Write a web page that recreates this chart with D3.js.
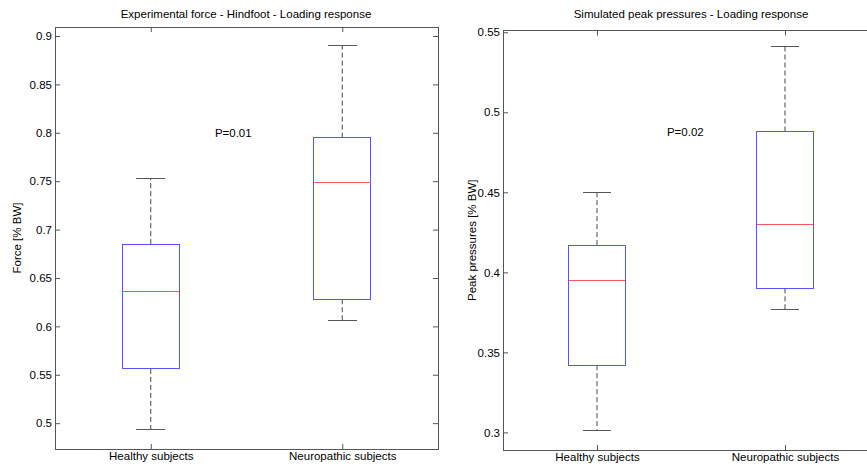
<!DOCTYPE html>
<html>
<head>
<meta charset="utf-8">
<script src="https://cdn.jsdelivr.net/npm/d3@7"></script>
<style>
  body { margin: 0; background: #fff; }
  svg { display: block; font-family: "Liberation Sans", Arial, sans-serif; }
  .axis text { font-size: 11.5px; fill: #000; }
  .axis line { stroke: #555; }
  .axis path { display: none; }
  .frame { fill: none; stroke: #555; stroke-width: 1; }
  .title, .ylabel, .pval { font-size: 11.5px; fill: #000; }
</style>
</head>
<body>
<div id="chart"></div>
<script>
// groups on the x axis
var groups = ["Healthy subjects", "Neuropathic subjects"];

// experimental force - hindfoot (box statistics per group)
var forceLow    = [0.493, 0.606];
var forceQ1     = [0.556, 0.628];
var forceMedian = [0.636, 0.749];
var forceQ3     = [0.685, 0.795];
var forceHigh   = [0.753, 0.890];
var forceTicks  = [0.5, 0.55, 0.6, 0.65, 0.7, 0.75, 0.8, 0.85, 0.9];

// simulated peak pressures (box statistics per group)
var pressLow    = [0.301, 0.377];
var pressQ1     = [0.342, 0.390];
var pressMedian = [0.395, 0.430];
var pressQ3     = [0.417, 0.488];
var pressHigh   = [0.450, 0.541];
var pressTicks  = [0.3, 0.35, 0.4, 0.45, 0.5, 0.55];

var svg = d3.select("#chart").append("svg")
    .attr("width", 867)
    .attr("height", 466);

// build records for one panel
function toBoxes (low, q1, med, q3, high) {
  return groups.map(function(g, i) {
    return {name: g, pos: i + 1, low: low[i], q1: q1[i], med: med[i], q3: q3[i], high: high[i]};
  });
}

function makeBox (opt) {

  var x = d3.scaleLinear().domain([0.5, 2.5]).range([opt.left, opt.right]);
  var y = d3.scaleLinear().domain(opt.yDomain).range([opt.bottom, opt.top]);

  var g = svg.append("g");

  // frame
  g.append("rect")
      .attr("class", "frame")
      .attr("x", opt.left)
      .attr("y", opt.top)
      .attr("width", opt.right - opt.left)
      .attr("height", opt.bottom - opt.top)
      .attr("shape-rendering", "crispEdges");

  // y axes, ticks pointing inwards
  g.append("g")
      .attr("class", "axis")
      .attr("transform", "translate(" + opt.left + ",0)")
      .call(d3.axisLeft(y).tickValues(opt.ticks).tickSize(-5).tickPadding(3)
              .tickFormat(function(d) { return String(d); }));
  g.append("g")
      .attr("class", "axis")
      .attr("transform", "translate(" + opt.right + ",0)")
      .call(d3.axisRight(y).tickValues(opt.ticks).tickSize(-5).tickFormat(""));

  // x axes
  g.append("g")
      .attr("class", "axis")
      .attr("transform", "translate(0," + opt.bottom + ")")
      .call(d3.axisBottom(x).tickValues([1, 2]).tickSize(-5).tickPadding(3)
              .tickFormat(function(d) { return groups[d - 1]; }));
  g.append("g")
      .attr("class", "axis")
      .attr("transform", "translate(0," + opt.top + ")")
      .call(d3.axisTop(x).tickValues([1, 2]).tickSize(-5).tickFormat(""));

  var boxes = g.selectAll(".box")
      .data(opt.data)
    .enter().append("g")
      .attr("class", "box");

  // dashed whiskers
  boxes.append("line")
      .attr("x1", function(d) { return x(d.pos); })
      .attr("x2", function(d) { return x(d.pos); })
      .attr("y1", function(d) { return y(d.q3); })
      .attr("y2", function(d) { return y(d.high); })
      .attr("stroke", "#444")
      .attr("stroke-dasharray", "5,3");
  boxes.append("line")
      .attr("x1", function(d) { return x(d.pos); })
      .attr("x2", function(d) { return x(d.pos); })
      .attr("y1", function(d) { return y(d.q1); })
      .attr("y2", function(d) { return y(d.low); })
      .attr("stroke", "#444")
      .attr("stroke-dasharray", "5,3");

  // caps
  ["low", "high"].forEach(function(k) {
    boxes.append("line")
        .attr("x1", function(d) { return x(d.pos - 0.075); })
        .attr("x2", function(d) { return x(d.pos + 0.075); })
        .attr("y1", function(d) { return y(d[k]); })
        .attr("y2", function(d) { return y(d[k]); })
        .attr("stroke", "#555")
        .attr("shape-rendering", "crispEdges");
  });

  // box
  boxes.append("rect")
      .attr("x", function(d) { return x(d.pos - 0.15); })
      .attr("width", function(d) { return x(d.pos + 0.15) - x(d.pos - 0.15); })
      .attr("y", function(d) { return y(d.q3); })
      .attr("height", function(d) { return y(d.q1) - y(d.q3); })
      .attr("fill", "none")
      .attr("stroke", "#5555ff")
      .attr("shape-rendering", "crispEdges");

  // median
  boxes.append("line")
      .attr("x1", function(d) { return x(d.pos - 0.15); })
      .attr("x2", function(d) { return x(d.pos + 0.15); })
      .attr("y1", function(d) { return y(d.med); })
      .attr("y2", function(d) { return y(d.med); })
      .attr("stroke", "#ff5555")
      .attr("shape-rendering", "crispEdges");

  // title
  g.append("text")
      .attr("class", "title")
      .attr("x", opt.titleX)
      .attr("y", 18)
      .attr("text-anchor", "middle")
      .text(opt.title);

  // y label
  g.append("text")
      .attr("class", "ylabel")
      .attr("transform", "translate(" + opt.labelX + "," + (opt.top + opt.bottom) / 2 + ") rotate(-90)")
      .attr("text-anchor", "middle")
      .text(opt.ylabel);

  // p-value
  g.append("text")
      .attr("class", "pval")
      .attr("x", x(opt.pAt[0]))
      .attr("y", y(opt.pAt[1]))
      .attr("dy", "0.35em")
      .text(opt.pText);
}

makeBox({
  left: 55, right: 438, top: 27, bottom: 449,
  yDomain: [0.4733, 0.9093],
  ticks: forceTicks,
  data: toBoxes(forceLow, forceQ1, forceMedian, forceQ3, forceHigh),
  title: "Experimental force - Hindfoot - Loading response",
  titleX: 246,
  ylabel: "Force [% BW]",
  labelX: 21,
  pText: "P=0.01", pAt: [1.335, 0.80]
});

makeBox({
  left: 503, right: 879, top: 30.5, bottom: 450,
  yDomain: [0.289, 0.5511],
  ticks: pressTicks,
  data: toBoxes(pressLow, pressQ1, pressMedian, pressQ3, pressHigh),
  title: "Simulated peak pressures - Loading response",
  titleX: 691,
  ylabel: "Peak pressures [% BW]",
  labelX: 476,
  pText: "P=0.02", pAt: [1.372, 0.488]
});
</script>
</body>
</html>
